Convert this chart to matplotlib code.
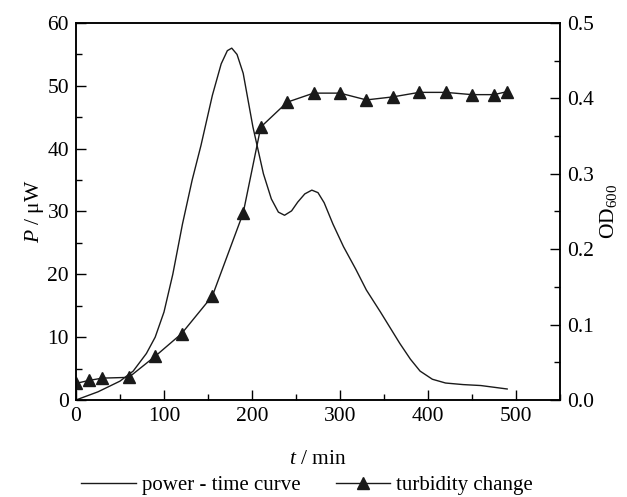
import matplotlib
matplotlib.use("Agg")
import matplotlib.pyplot as plt
from matplotlib.ticker import MultipleLocator, FormatStrFormatter

plt.rcParams['font.family'] = ['Liberation Serif', 'DejaVu Serif']
plt.rcParams['mathtext.fontset'] = 'custom'
plt.rcParams['mathtext.rm'] = 'Liberation Serif'
plt.rcParams['mathtext.it'] = 'Liberation Serif:italic'

# power - time curve
t_power = [0, 25, 50, 65, 80, 90, 100, 110, 121, 132, 142, 155, 165, 172, 177, 183,
           190, 201, 213, 222, 230, 237, 245, 252, 260, 268, 275, 282, 292, 304,
           318, 330, 346, 368, 380, 391, 405, 420, 440, 460, 490]
power = [0, 1.3, 3.0, 4.6, 7.4, 10.0, 14.0, 20.0, 28.0, 35.0, 40.5, 48.5, 53.5,
         55.6, 56.0, 55.0, 52.0, 43.5, 36.0, 32.0, 29.9, 29.4, 30.1, 31.5, 32.8,
         33.4, 33.0, 31.4, 28.0, 24.4, 20.8, 17.5, 14.0, 9.0, 6.5, 4.6, 3.3, 2.7,
         2.45, 2.3, 1.75]

# turbidity (OD600)
t_od = [0, 15, 30, 60, 90, 120, 155, 190, 210, 240, 270, 300, 330, 360, 390, 420,
        450, 475, 490]
od = [0.022, 0.026, 0.029, 0.030, 0.058, 0.088, 0.138, 0.248, 0.362, 0.395, 0.407,
      0.407, 0.398, 0.402, 0.408, 0.408, 0.405, 0.405, 0.409]

fig = plt.figure(figsize=(6.27, 4.97), dpi=100)
ax = fig.add_axes([0.1212, 0.1952, 0.7719, 0.7585])
ax2 = ax.twinx()

l1, = ax.plot(t_power, power, color='#1a1a1a', lw=1.0)
l2, = ax2.plot(t_od, od, color='#1a1a1a', lw=1.0, marker='^', ms=8.5)

ax.set_xlim(0, 550)
ax.set_ylim(0, 60)
ax2.set_ylim(0, 0.5)

ax.xaxis.set_major_locator(MultipleLocator(100))
ax.xaxis.set_minor_locator(MultipleLocator(50))
ax.yaxis.set_major_locator(MultipleLocator(10))
ax.yaxis.set_minor_locator(MultipleLocator(5))
ax2.yaxis.set_major_locator(MultipleLocator(0.1))
ax2.yaxis.set_minor_locator(MultipleLocator(0.05))
ax2.yaxis.set_major_formatter(FormatStrFormatter('%.1f'))

for a in (ax, ax2):
    a.tick_params(which='major', direction='in', length=7, width=1, labelsize=15.5, pad=5)
    a.tick_params(which='minor', direction='in', length=4, width=1)
    for s in a.spines.values():
        s.set_linewidth(1.1)
ax.tick_params(top=False, right=False, which='both')

ax.set_xlabel(r'$\it{t}$ / min', fontsize=15.5, labelpad=17)
ax.set_ylabel(r'$\it{P}$ / μW', fontsize=15.5, labelpad=1)
ax2.set_ylabel(r'OD$_{600}$', fontsize=15.5, labelpad=3)

fig.legend([l1, l2], ['power - time curve', 'turbidity change'], loc='center',
           bbox_to_anchor=(0.49, 0.024), ncol=2, frameon=False, fontsize=15,
           handlelength=2.6, columnspacing=1.7, handletextpad=0.3)

fig.savefig('out.png', dpi=100)
